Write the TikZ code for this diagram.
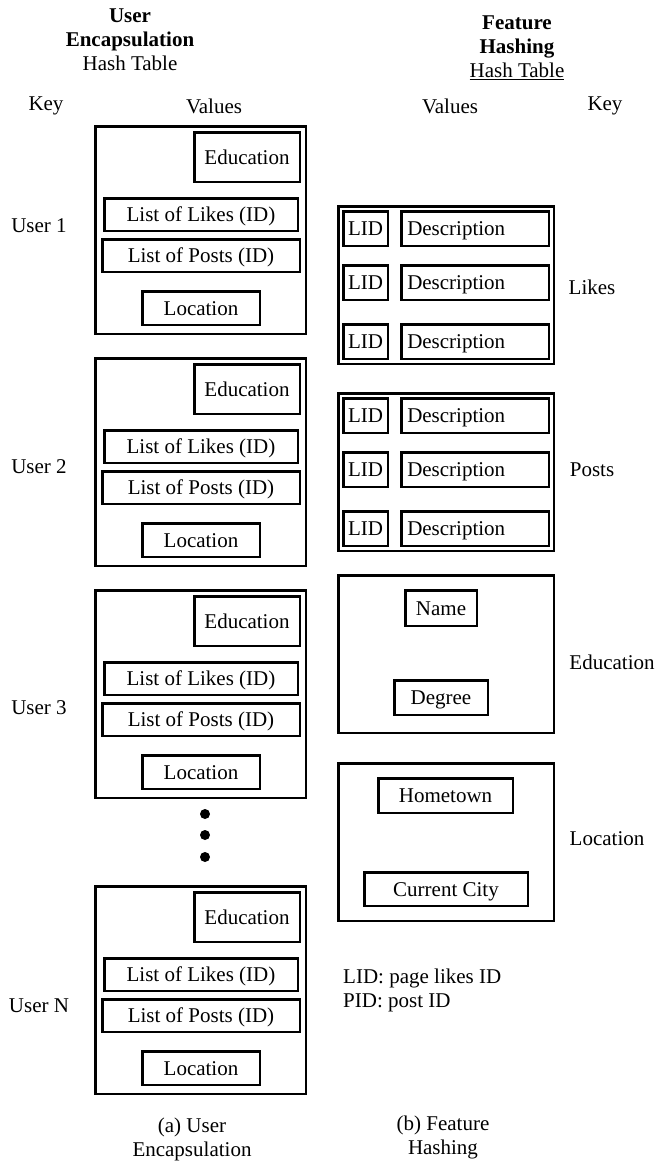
\documentclass[tikz,border=0pt]{standalone}
\usepackage{fontspec}
\setmainfont{Liberation Serif}
\begin{document}
\begin{tikzpicture}[x=1pt,y=-1pt,
  every node/.style={font=\fontsize{21}{24}\selectfont},
  bigbox/.style={draw, line width=2.5pt, inner sep=0pt},
  smallbox/.style={draw, line width=2.5pt, inner sep=0pt, text height=16pt, text depth=2pt},
  lbl/.style={inner sep=0pt, align=center},
  dot/.style={circle, fill=black, inner sep=0pt, minimum size=10pt}]
\useasboundingbox (0,0) rectangle (672,1163);

% ---------- left titles ----------
\node[lbl] (ltitle) at (130,40) {\textbf{User}\\\textbf{Encapsulation}\\Hash Table};
\node[lbl] (lkey) at (46,106) {Key};
\node[lbl] (lval) at (214,106) {Values};

% ---------- left user boxes ----------
\foreach \t/\n/\lab/\ly in {125/u1/User 1/226, 357/u2/User 2/467, 589/u3/User 3/708, 885/uN/User N/1006}{
  \node[bigbox, minimum width=210.5pt, minimum height=207.5pt] (\n) at (200.5,\t+105) {};
  \node[smallbox, minimum width=105.5pt, minimum height=49.5pt] (\n-edu) at (247,\t+32) {Education};
  \node[smallbox, minimum width=193.5pt, minimum height=32.5pt] (\n-likes) at (201,\t+89.5) {List of Likes (ID)};
  \node[smallbox, minimum width=197.5pt, minimum height=32.5pt] (\n-posts) at (201,\t+130.5) {List of Posts (ID)};
  \node[smallbox, minimum width=117.5pt, minimum height=33.5pt] (\n-loc) at (201,\t+183) {Location};
  \node[lbl] (\n-key) at (39,\ly) {\lab};
}

% dots
\node[dot] (d1) at (205,814) {};
\node[dot] (d2) at (205,835) {};
\node[dot] (d3) at (205,857) {};

% ---------- right titles ----------
\node[lbl] (rtitle) at (517,48) {\textbf{Feature}\\\textbf{Hashing}\\\underline{Hash Table}};
\node[lbl] (rval) at (450,106) {Values};
\node[lbl] (rkey) at (605,106) {Key};

% ---------- Likes / Posts ----------
\foreach \T/\n/\lab/\ly in {205/likes/Likes/287, 392/posts/Posts/470}{
  \node[bigbox, minimum width=215.5pt, minimum height=157.5pt] (\n) at (446,\T+80) {};
  \foreach \r/\dy in {1/23.5, 2/77.5, 3/136.5}{
    \node[smallbox, minimum width=44.5pt, minimum height=34.5pt] (\n-lid\r) at (365.5,\T+\dy) {LID};
    \node[smallbox, minimum height=34.5pt, inner xsep=6pt, text width=135.5pt, align=left] (\n-desc\r) at (475,\T+\dy) {Description};
  }
  \node[lbl] (\n-key) at (592,\ly) {\lab};
}

% ---------- Education ----------
\node[bigbox, minimum width=215.5pt, minimum height=157.5pt] (edu) at (446,654) {};
\node[smallbox, minimum width=71.5pt, minimum height=35.5pt] (name) at (441,608) {Name};
\node[smallbox, minimum width=93.5pt, minimum height=34.5pt] (degree) at (441,697.5) {Degree};
\node[lbl] (edu-key) at (612,662) {Education};

% ---------- Location ----------
\node[bigbox, minimum width=215.5pt, minimum height=157.5pt] (loc) at (446,842) {};
\node[smallbox, minimum width=134.5pt, minimum height=34.5pt] (home) at (445.5,795.5) {Hometown};
\node[smallbox, minimum width=163.5pt, minimum height=33.5pt] (city) at (446,889) {Current City};
\node[lbl] (loc-key) at (607,839) {Location};

% ---------- legend & captions ----------
\node[lbl, anchor=west, align=left] (legend) at (343,990) {LID: page likes ID\\PID: post ID};
\node[lbl] (capa) at (192,1139) {(a) User\\Encapsulation};
\node[lbl] (capb) at (443,1137) {(b) Feature\\Hashing};
\end{tikzpicture}
\end{document}
